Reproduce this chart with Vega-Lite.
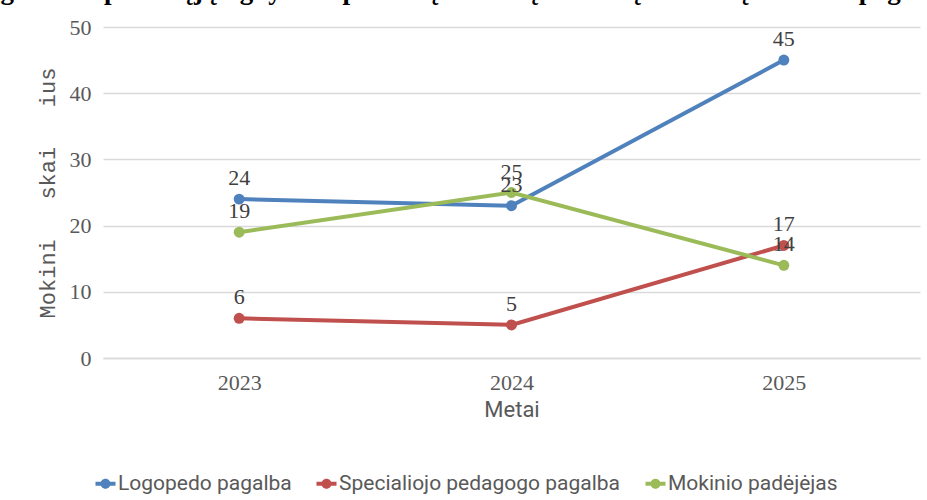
{
  "$schema": "https://vega.github.io/schema/vega-lite/v6.json",
  "width": 817,
  "height": 331,
  "autosize": {"type": "none"},
  "padding": {"left": 103, "top": 27, "right": 7, "bottom": 142},
  "background": "white",
  "title": {
    "text": "Diagrama. Specialiųjų ugdymosi poreikių turinčių mokinių teikiamą švietimo pagalbą",
    "anchor": "start",
    "frame": "group",
    "orient": "top",
    "offset": 0,
    "baseline": "alphabetic",
    "dx": -143,
    "dy": 10,
    "font": "Liberation Serif",
    "fontSize": 27,
    "fontWeight": "bold",
    "color": "black"
  },
  "config": {"view": {"stroke": null}},
  "resolve": {"legend": {"color": "independent"}},
  "data": {
    "values": [
      {"Metai": "2023", "series": "Logopedo pagalba", "value": 24},
      {"Metai": "2024", "series": "Logopedo pagalba", "value": 23},
      {"Metai": "2025", "series": "Logopedo pagalba", "value": 45},
      {"Metai": "2023", "series": "Specialiojo pedagogo pagalba", "value": 6},
      {"Metai": "2024", "series": "Specialiojo pedagogo pagalba", "value": 5},
      {"Metai": "2025", "series": "Specialiojo pedagogo pagalba", "value": 17},
      {"Metai": "2023", "series": "Mokinio padėjėjas", "value": 19},
      {"Metai": "2024", "series": "Mokinio padėjėjas", "value": 25},
      {"Metai": "2025", "series": "Mokinio padėjėjas", "value": 14}
    ]
  },
  "encoding": {
    "x": {
      "field": "Metai",
      "type": "ordinal",
      "scale": {"type": "point", "padding": 0.5},
      "axis": {
        "labelAngle": 0,
        "domain": true,
        "domainColor": "#D9D9D9",
        "domainWidth": 1.3,
        "ticks": false,
        "labelPadding": 14,
        "labelFont": "Liberation Serif",
        "labelFontSize": 22,
        "labelColor": "#595959",
        "title": "Metai",
        "titleFont": "Roboto",
        "titleFontSize": 22,
        "titleFontWeight": "normal",
        "titleColor": "#595959",
        "titlePadding": 6
      }
    },
    "y": {
      "field": "value",
      "type": "quantitative",
      "scale": {"domain": [0, 50], "nice": false},
      "axis": {
        "values": [0, 10, 20, 30, 40, 50],
        "domain": false,
        "ticks": false,
        "gridColor": "#D9D9D9",
        "gridWidth": 1.3,
        "labelFont": "Liberation Serif",
        "labelFontSize": 22,
        "labelColor": "#595959",
        "labelPadding": 12,
        "title": "Mokini\u00a0\u00a0\u00a0skai\u00a0\u00a0\u00a0ius",
        "titleFont": "Liberation Mono",
        "titleFontSize": 22,
        "titleFontWeight": "normal",
        "titleColor": "#595959",
        "titlePadding": 10
      }
    },
    "color": {
      "field": "series",
      "type": "nominal",
      "scale": {
        "domain": ["Logopedo pagalba", "Specialiojo pedagogo pagalba", "Mokinio padėjėjas"],
        "range": ["#4F81BD", "#C0504D", "#9BBB59"]
      }
    }
  },
  "layer": [
    {
      "mark": {"type": "line", "strokeWidth": 4},
      "encoding": {"color": {"field": "series", "type": "nominal", "legend": null}}
    },
    {
      "mark": {"type": "point", "filled": true, "size": 120, "opacity": 1},
      "encoding": {
        "color": {
          "field": "series",
          "type": "nominal",
          "legend": {
            "orient": "none",
            "legendX": -8,
            "legendY": 446,
            "padding": 0,
            "direction": "horizontal",
            "title": null,
            "labelFont": "Roboto",
            "labelFontSize": 21,
            "labelColor": "#595959",
            "labelLimit": 400,
            "symbolType": "M-1,-0.2L1,-0.2L1,0.2L-1,0.2Z M-0.5,0A0.5,0.5 0 1,1 0.5,0A0.5,0.5 0 1,1 -0.5,0Z",
            "symbolSize": 400,
            "symbolStrokeWidth": 0,
            "symbolOpacity": 1,
            "columnPadding": 24,
            "labelOffset": 2,
            "encode": {
              "symbols": {
                "update": {
                  "fill": {"scale": "color", "field": "value"},
                  "stroke": {"scale": "color", "field": "value"},
                  "strokeWidth": {"value": 0},
                  "opacity": {"value": 1}
                }
              }
            }
          }
        }
      }
    },
    {
      "mark": {"type": "text", "dy": -21, "font": "Liberation Serif", "fontSize": 22, "baseline": "middle"},
      "encoding": {
        "text": {"field": "value", "type": "quantitative"},
        "color": {"value": "#404040"}
      }
    }
  ]
}
